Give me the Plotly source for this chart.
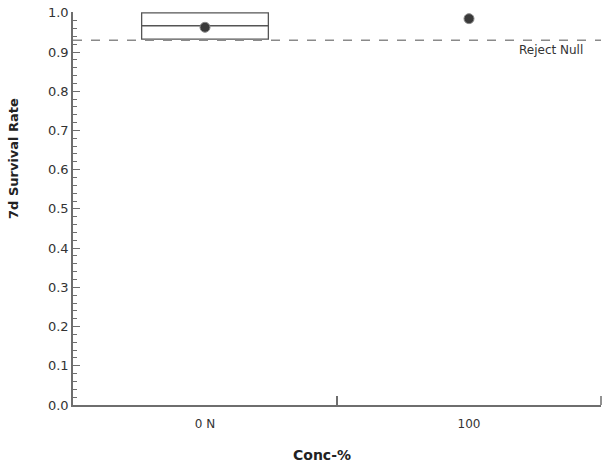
import plotly.graph_objects as go

categories = ["0 N", "100"]
box_q1 = [0.933]
box_median = [0.967]
box_q3 = [1.0]
box_min = [0.933]
box_max = [1.0]
means = [0.963, 0.985]
reject_null = 0.930

axis_color = "#6e6e6e"
font_family = "DejaVu Sans, Verdana, sans-serif"

W, H = 605, 468
L, R, T, B = 73, 4, 12, 63
pw, ph = W - L - R, H - T - B

def px_to_paper(x, y):
    return (x - L) / pw, (H - B - y) / ph

fig = go.Figure()
fig.add_trace(go.Box(
    x=[categories[0]], q1=box_q1, median=box_median, q3=box_q3,
    lowerfence=box_min, upperfence=box_max,
    width=0.48, fillcolor="white",
    line=dict(color="#555555", width=1.3),
    boxpoints=False, showlegend=False, hoverinfo="skip",
))
fig.add_trace(go.Scatter(
    x=categories, y=means, mode="markers",
    marker=dict(color="#3a3a3a", size=10, line=dict(color="#888888", width=1)),
    showlegend=False, cliponaxis=False,
))
fig.add_hline(y=reject_null, line=dict(color="#8a8a8a", width=1.5, dash="dash"))
fig.add_annotation(x=1, xref="paper", y=reject_null, yref="y", text="Reject Null",
                   showarrow=False, xanchor="right", yanchor="top", xshift=-16, yshift=-1,
                   font=dict(size=12, color="#333333", family=font_family))
yx, yy = px_to_paper(14, 159)
fig.add_annotation(x=yx, xref="paper", y=yy, yref="paper", text="<b>7d Survival Rate</b>",
                   showarrow=False, textangle=-90, xanchor="center", yanchor="middle",
                   font=dict(size=13, color="#222222", family=font_family))
cx, cy = px_to_paper(322, 455)
fig.add_annotation(x=cx, xref="paper", y=cy, yref="paper", text="<b>Conc-%</b>",
                   showarrow=False, xanchor="center", yanchor="middle",
                   font=dict(size=14, color="#222222", family=font_family))
# closing tick at the right end of the category axis
fig.add_shape(type="line", xref="paper", yref="paper", x0=1, x1=1, y0=0, y1=9 / ph,
              line=dict(color=axis_color, width=1.5))

fig.update_layout(
    width=W, height=H,
    margin=dict(l=L, r=R, t=T, b=B, autoexpand=False),
    plot_bgcolor="white", paper_bgcolor="white",
    font=dict(family=font_family, size=12, color="#333333"),
)
fig.update_xaxes(
    type="category", categoryorder="array", categoryarray=categories,
    range=[-0.5, 1.5], tickson="boundaries", ticks="inside", ticklen=9,
    tickcolor=axis_color, tickwidth=1.5, automargin=False, ticklabelstandoff=7,
    showline=True, linecolor=axis_color, linewidth=1.5, showgrid=False, zeroline=False,
    tickfont=dict(size=12, color="#333333"),
)
fig.update_yaxes(
    range=[0, 1.002], dtick=0.1, tick0=0, tickformat=".1f", automargin=False,
    ticks="inside", ticklen=7, tickcolor=axis_color, tickwidth=1.3,
    minor=dict(dtick=0.02, ticks="inside", ticklen=4, tickcolor=axis_color, tickwidth=1),
    showline=True, linecolor=axis_color, linewidth=1.5, showgrid=False, zeroline=False,
    tickfont=dict(size=13, color="#333333"),
)

fig.write_html("out.html", config={"displayModeBar": False},
               post_script="document.body.style.margin='0px';")
